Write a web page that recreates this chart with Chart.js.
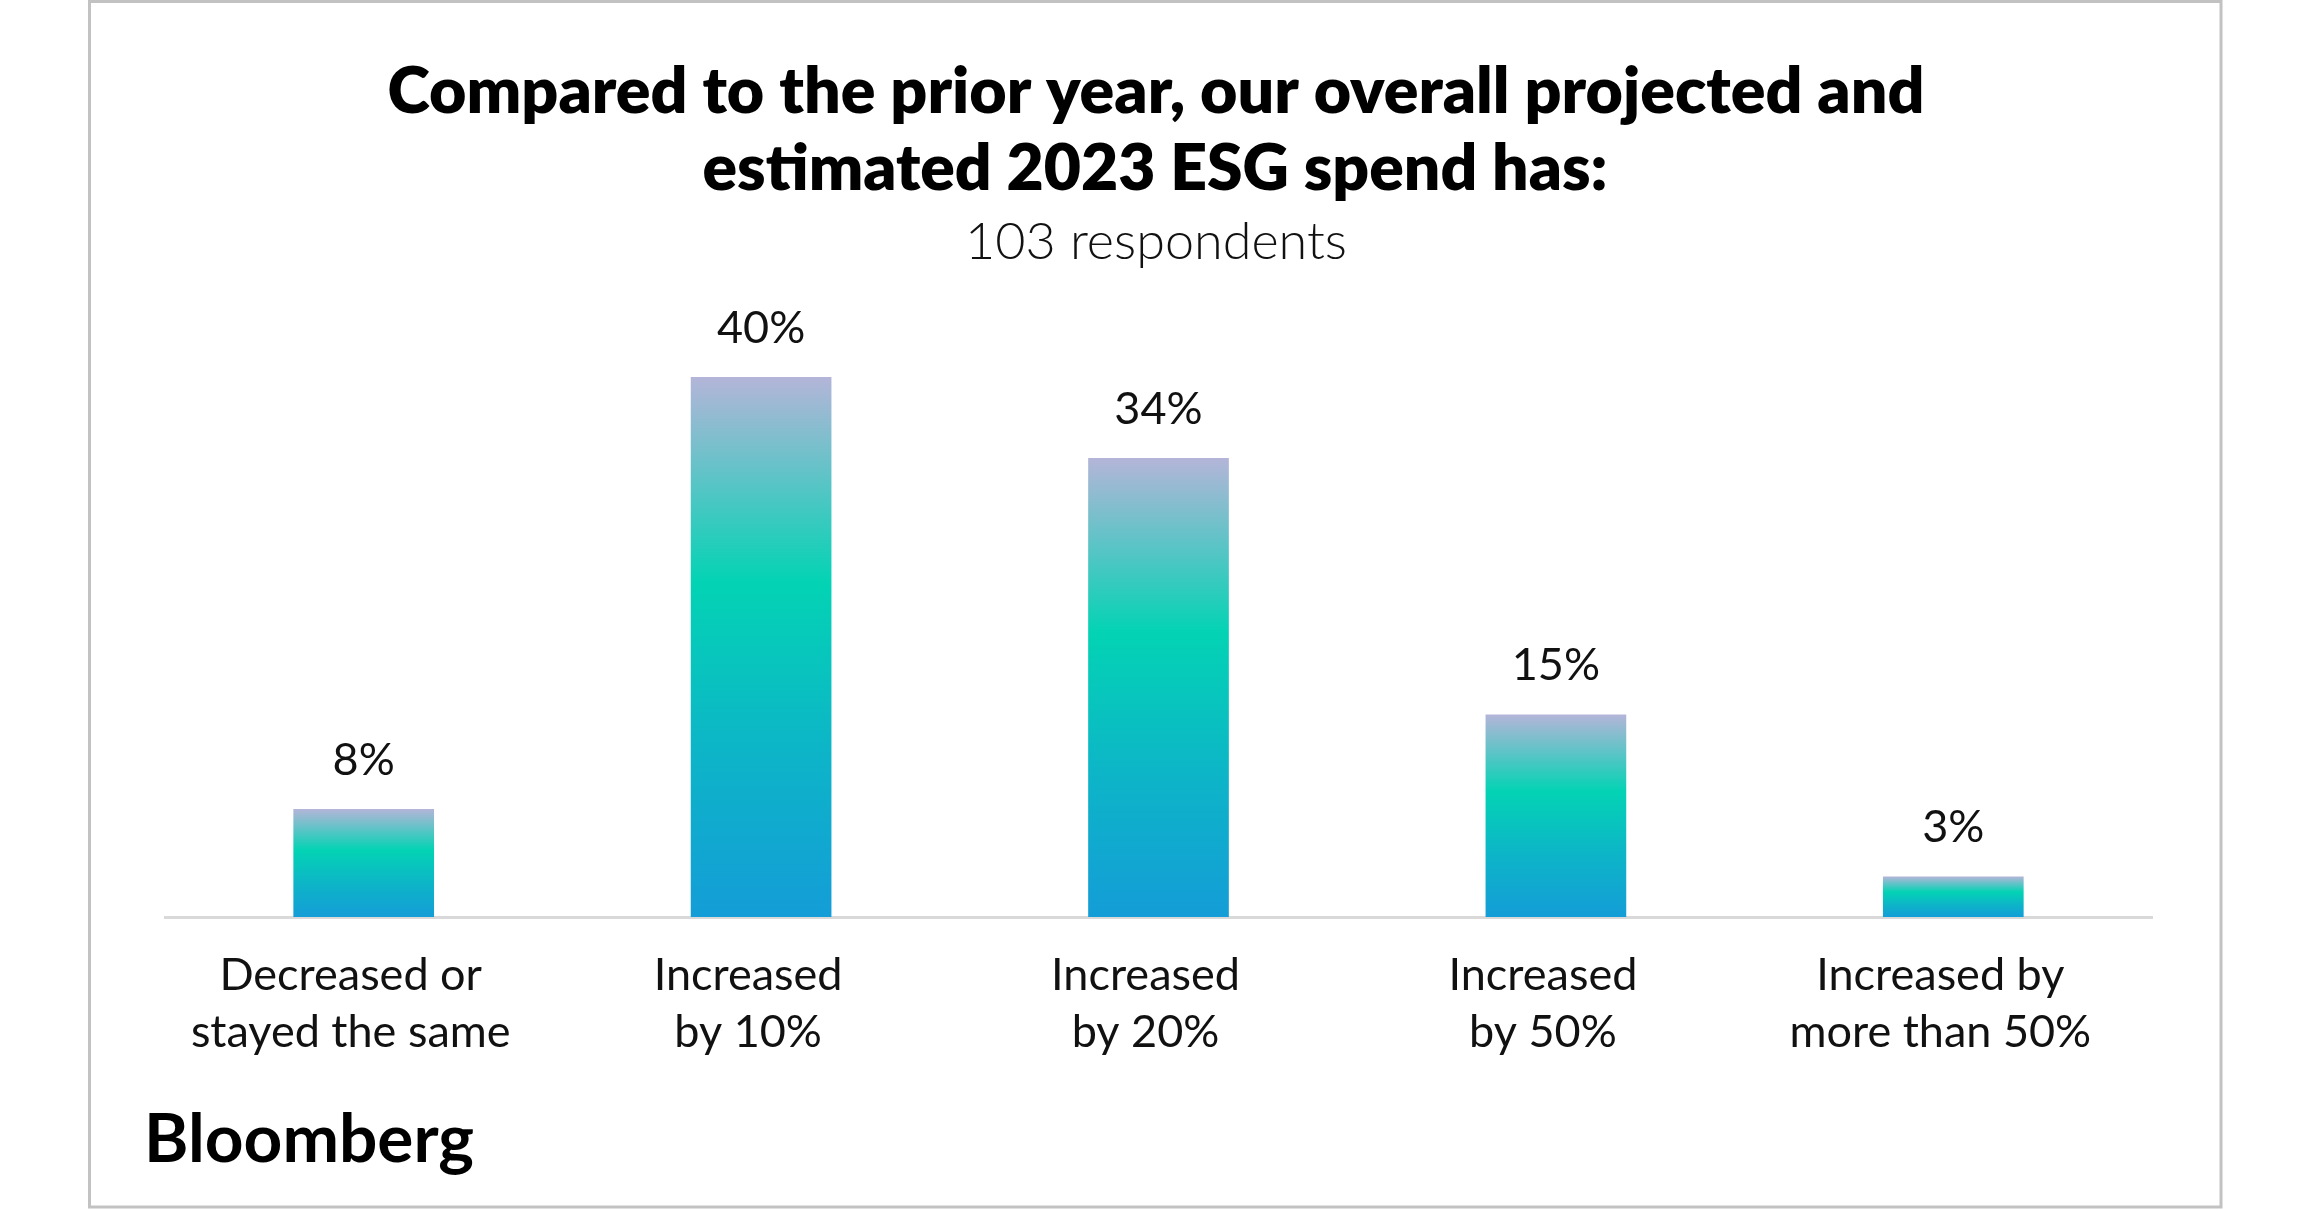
<!DOCTYPE html>
<html>
<head>
<meta charset="utf-8">
<script src="https://cdn.jsdelivr.net/npm/chart.js@4.4.1/dist/chart.umd.min.js"></script>
<style>
  html, body { margin: 0; padding: 0; background: #fff; }
  #wrap { position: relative; width: 2312px; height: 1210px; }
  canvas { display: block; }
</style>
</head>
<body>
<div id="wrap"><canvas id="c" width="2312" height="1210"></canvas></div>
<script>
// ---- Data ----
const titleLines = ["Compared to the prior year, our overall projected and", "estimated 2023 ESG spend has:"];
const subtitle = "103 respondents";
const brand = "Bloomberg";
const categories = [
  ["Decreased or", "stayed the same"],
  ["Increased", "by 10%"],
  ["Increased", "by 20%"],
  ["Increased", "by 50%"],
  ["Increased by", "more than 50%"]
];
const values = [8, 40, 34, 15, 3];
const valueLabels = ["8%", "40%", "34%", "15%", "3%"];

// ---- helpers ----
function fitFont(ctx, text, weight, family, target, start) {
  ctx.font = weight + " " + start + "px " + family;
  const w = ctx.measureText(text).width;
  const size = start * target / w;
  return weight + " " + size.toFixed(2) + "px " + family;
}

const decorPlugin = {
  id: 'decor',
  beforeDraw(chart) {
    const ctx = chart.ctx;
    ctx.save();
    ctx.fillStyle = '#ffffff';
    ctx.fillRect(0, 0, chart.width, chart.height);
    ctx.strokeStyle = '#c2c2c2';
    ctx.lineWidth = 3;
    ctx.strokeRect(89.5, 1.5, 2221 - 89.5, 1207 - 1.5);
    ctx.restore();
  },
  afterDraw(chart) {
    const ctx = chart.ctx;
    ctx.save();
    ctx.textAlign = 'center';
    ctx.textBaseline = 'alphabetic';
    ctx.fillStyle = '#000';
    ctx.font = fitFont(ctx, titleLines[0], '800', 'Lato', 1537, 60);
    ctx.fillText(titleLines[0], 1156, 113);
    ctx.font = fitFont(ctx, titleLines[1], '800', 'Lato', 905, 60);
    ctx.fillText(titleLines[1], 1155, 190);
    ctx.fillStyle = '#111';
    ctx.font = fitFont(ctx, subtitle, '300', 'Lato', 382, 50);
    ctx.fillText(subtitle, 1156, 259);

    // value labels
    const meta = chart.getDatasetMeta(0);
    ctx.font = '400 45px Lato';
    ctx.textBaseline = 'middle';
    ctx.fillStyle = '#111';
    meta.data.forEach((bar, i) => {
      ctx.fillText(valueLabels[i], bar.x, bar.y - 49);
    });

    // brand
    ctx.textAlign = 'left';
    ctx.textBaseline = 'alphabetic';
    ctx.fillStyle = '#000';
    ctx.font = fitFont(ctx, brand, '700', 'Lato', 330, 70);
    ctx.fillText(brand, 144, 1162);
    ctx.restore();
  }
};

function barGradient(context) {
  const chart = context.chart;
  if (!chart.chartArea) return '#10b5c8';
  const yScale = chart.scales.y;
  const v = context.raw;
  const top = yScale.getPixelForValue(v);
  const bottom = yScale.getPixelForValue(0);
  if (!isFinite(top) || !isFinite(bottom) || top === bottom) return '#10b5c8';
  const g = chart.ctx.createLinearGradient(0, top, 0, bottom);
  g.addColorStop(0, '#b4b5d8');
  g.addColorStop(0.38, '#03d3b4');
  g.addColorStop(0.7, '#0db4c8');
  g.addColorStop(1, '#149dd7');
  return g;
}

new Chart(document.getElementById('c'), {
  type: 'bar',
  data: {
    labels: categories,
    datasets: [{
      data: values,
      backgroundColor: barGradient,
      borderWidth: 0,
      barPercentage: 0.354,
      categoryPercentage: 1.0
    }]
  },
  options: {
    responsive: false,
    animation: false,
    devicePixelRatio: 1,
    layout: { padding: { left: 165, right: 160, top: 377, bottom: 93 } },
    plugins: {
      legend: { display: false },
      title: { display: false },
      tooltip: { enabled: false }
    },
    scales: {
      x: {
        grid: { display: false, drawTicks: false },
        border: { display: true, color: '#d9d9d9', width: 3 },
        ticks: {
          color: '#111',
          padding: 30,
          labelOffset: -13,
          maxRotation: 0,
          autoSkip: false,
          font: { family: 'Lato', size: 45, weight: '400', lineHeight: 1.27 }
        },
        afterFit(scale) { scale.height = 200; }
      },
      y: {
        display: false,
        min: 0,
        max: 40
      }
    }
  },
  plugins: [decorPlugin]
});
</script>
</body>
</html>
